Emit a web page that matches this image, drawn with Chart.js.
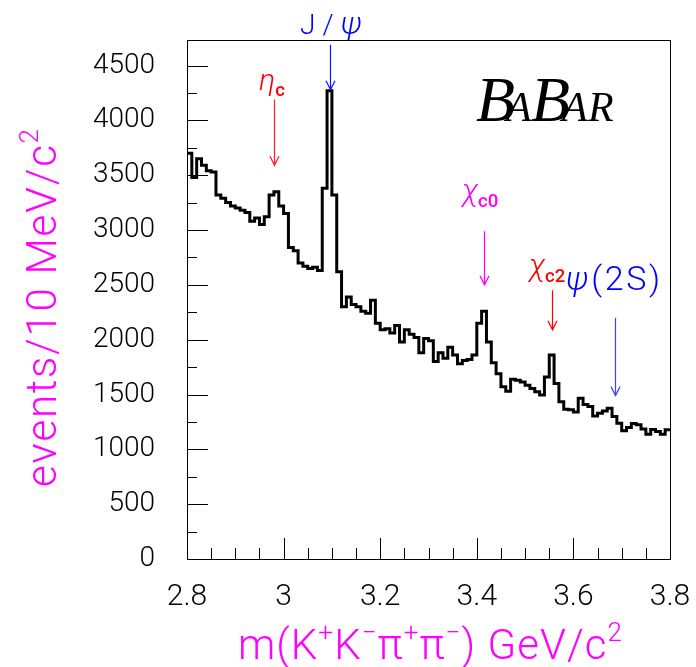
<!DOCTYPE html>
<html>
<head>
<meta charset="utf-8">
<script src="https://cdn.jsdelivr.net/npm/chart.js@4.4.1/dist/chart.umd.min.js"></script>
<style>
  body { margin: 0; background: #fff; }
  canvas { display: block; }
</style>
</head>
<body>
<canvas id="spectrum" width="696" height="667"></canvas>
<script>
// m(K+K-pi+pi-) spectrum, 10 MeV bins from 2.80 to 3.80 GeV
const massLow = 2.80;
const massHigh = 3.80;
const binWidth = 0.01;

const counts = [
  3700, 3480, 3650, 3590, 3540, 3530, 3320, 3290, 3250, 3220,
  3200, 3180, 3160, 3080, 3110, 3050, 3120, 3320, 3350, 3220,
  3150, 2840, 2810, 2700, 2670, 2650, 2660, 2630, 3380, 4270,
  3320, 2620, 2300, 2390, 2320, 2300, 2260, 2240, 2360, 2150,
  2090, 2100, 2060, 2130, 1980, 2090, 2050, 2020, 1880, 2010,
  1990, 1800, 1880, 1830, 1930, 1860, 1780, 1810, 1820, 1860,
  2150, 2260, 1980, 1790, 1690, 1570, 1530, 1640, 1630, 1615,
  1585, 1555, 1525, 1495, 1660, 1860, 1600, 1435, 1365, 1360,
  1340, 1465, 1410, 1390, 1305, 1330, 1350, 1375, 1300, 1237,
  1170, 1200, 1235, 1225, 1185, 1138, 1180, 1163, 1138, 1178
];

const yMax = 4733;
const yLabels = [0, 500, 1000, 1500, 2000, 2500, 3000, 3500, 4000, 4500];
const xLabels = [2.8, 3.0, 3.2, 3.4, 3.6, 3.8];

// charmonium states: mass, arrow from / to (events), colour
const peakNames  = ['eta_c', 'J/psi', 'chi_c0', 'chi_c2', 'psi(2S)'];
const peakMasses = [2.980, 3.097, 3.415, 3.556, 3.686];
const arrowFrom  = [4190, 4690, 2990, 2450, 2200];
const arrowTo    = [3590, 4280, 2500, 2090, 1490];
const peakColors = ['#ff2020', '#1010ff', '#ff00ff', '#ff0000', '#4040ff'];

// histogram as left bin edges plus the closing edge
const histPoints = counts.map((v, i) => ({ x: +(massLow + i * binWidth).toFixed(2), y: v }));
histPoints.push({ x: massHigh, y: counts[counts.length - 1] });

const sansFam = 'Roboto, "Liberation Sans", sans-serif';
const dejaFam = '"DejaVu Sans", sans-serif';

// draws a run of text pieces; kind '' / 'sup' / 'sub', spread over an optional width
// part = [text, kind, style, family, size]
function textRun(ctx, parts, x, y, base, targetW) {
  const pieces = [];
  parts.forEach(([str, kind, style, fam, sz]) => {
    for (const ch of str) {
      pieces.push({ ch, kind: kind || '', style: style || base.style, fam: fam || base.fam, sz: sz || base.size });
    }
  });
  const fontFor = p => {
    const s = p.kind ? p.sz * 0.62 : p.sz;
    return p.style + ' ' + s.toFixed(1) + 'px ' + p.fam;
  };
  let natural = 0;
  pieces.forEach(p => { ctx.font = fontFor(p); p.w = ctx.measureText(p.ch).width; natural += p.w; });
  const gap = targetW ? (targetW - natural) / (pieces.length - 1) : 0;
  let cx = x;
  pieces.forEach(p => {
    ctx.font = fontFor(p);
    const dy = p.kind === 'sup' ? -p.sz * 0.42 : p.kind === 'sub' ? p.sz * 0.2 : 0;
    ctx.fillText(p.ch, cx, y + dy);
    cx += p.w + gap;
  });
}

function arrow(ctx, x, y0, y1, color) {
  ctx.strokeStyle = color;
  ctx.lineWidth = 1.2;
  ctx.beginPath();
  ctx.moveTo(x, y0);
  ctx.lineTo(x, y1);
  ctx.moveTo(x - 4.5, y1 - 9);
  ctx.lineTo(x, y1);
  ctx.lineTo(x + 4.5, y1 - 9);
  ctx.stroke();
}

const decorations = {
  id: 'decorations',
  afterDraw(chart) {
    const { ctx, chartArea: a, scales } = chart;
    const xs = scales.x, ys = scales.y;
    ctx.save();

    // frame
    ctx.strokeStyle = '#000';
    ctx.lineWidth = 1;
    ctx.strokeRect(Math.round(a.left) + 0.5, Math.round(a.top) + 0.5,
      Math.round(a.right - a.left), Math.round(a.bottom - a.top));

    // inner ticks
    ctx.beginPath();
    for (let v = 0; v <= yMax; v += 250) {
      const py = Math.round(ys.getPixelForValue(v)) + 0.5;
      const len = v % 500 === 0 ? 21 : 10;
      ctx.moveTo(a.left, py);
      ctx.lineTo(a.left + len, py);
    }
    for (let k = 0; k <= 20; k++) {
      const px = Math.round(xs.getPixelForValue(massLow + k * 0.05)) + 0.5;
      const len = k % 4 === 0 ? 21 : 11;
      ctx.moveTo(px, a.bottom);
      ctx.lineTo(px, a.bottom - len);
    }
    ctx.stroke();

    // axis titles
    ctx.fillStyle = '#ff00ff';
    ctx.textBaseline = 'alphabetic';
    ctx.textAlign = 'left';
    const title = { style: '300', fam: sansFam, size: 42 };
    textRun(ctx, [['m(K'], ['+', 'sup'], ['K'], ['\u2212', 'sup'], ['\u03c0'], ['+', 'sup'],
      ['\u03c0'], ['\u2212', 'sup'], [') GeV/c'], ['2', 'sup']], 238, 659, title, 384);

    ctx.save();
    ctx.translate(56, 487);
    ctx.rotate(-Math.PI / 2);
    textRun(ctx, [['events/10 MeV/c'], ['2', 'sup']], 0, 0, title, 358);
    ctx.restore();

    // peak markers
    peakMasses.forEach((m, i) => {
      const px = xs.getPixelForValue(m);
      arrow(ctx, Math.round(px) + 0.5, ys.getPixelForValue(arrowFrom[i]), ys.getPixelForValue(arrowTo[i]), peakColors[i]);
    });
    const lab = { style: '400', fam: sansFam, size: 28 };
    const it = 'italic 300';
    const sub = '500';
    ctx.fillStyle = '#ff0000';
    textRun(ctx, [['\u03b7', '', it, sansFam, 30], ['c', 'sub', sub, sansFam, 30]], 259, 90, lab);
    ctx.fillStyle = '#0000ff';
    textRun(ctx, [['J'], ['/'], ['\u03c8', '', it, sansFam, 32]], 300, 34, { style: '300', fam: sansFam, size: 28 }, 62);
    ctx.fillStyle = '#ff00ff';
    textRun(ctx, [['\u03c7', '', it, sansFam, 31], ['c0', 'sub', sub, sansFam, 30]], 462, 201, lab);
    ctx.fillStyle = '#ff0000';
    textRun(ctx, [['\u03c7', '', it, sansFam, 31], ['c2', 'sub', sub, sansFam, 30]], 529, 276, lab);
    ctx.fillStyle = '#0000ff';
    textRun(ctx, [['\u03c8', '', it, sansFam, 34], ['(2S)', '', '300', sansFam, 34]], 566, 290, lab, 94);

    // experiment logo
    ctx.fillStyle = '#000';
    const big = 'italic 64px "Liberation Serif", serif';
    const small = 'italic 42px "Liberation Serif", serif';
    [['B', big, 476], ['A', small, 506], ['B', big, 531], ['A', small, 562], ['R', small, 588]]
      .forEach(([ch, f, x]) => { ctx.font = f; ctx.fillText(ch, x, 121); });

    ctx.restore();
  }
};

new Chart(document.getElementById('spectrum'), {
  type: 'line',
  data: {
    datasets: [{
      data: histPoints,
      stepped: true,
      borderColor: '#000',
      borderWidth: 3,
      pointRadius: 0,
      fill: false,
      tension: 0
    }]
  },
  options: {
    responsive: false,
    animation: false,
    devicePixelRatio: 1,
    layout: { padding: { top: 40, right: 26, left: 0, bottom: 0 } },
    plugins: { legend: { display: false }, tooltip: { enabled: false } },
    scales: {
      x: {
        type: 'linear',
        min: massLow,
        max: massHigh,
        grid: { display: false },
        border: { display: false },
        afterFit(s) { s.height = 108; s.paddingLeft = 0; s.paddingRight = 0; },
        afterBuildTicks(s) { s.ticks = xLabels.map(v => ({ value: v })); },
        ticks: {
          color: '#000',
          font: { family: sansFam, size: 30, weight: 300 },
          padding: 12,
          maxRotation: 0,
          autoSkip: false,
          callback: v => String(Number(v.toFixed(1)))
        }
      },
      y: {
        min: 0,
        max: yMax,
        grid: { display: false },
        border: { display: false },
        afterFit(s) { s.width = 187; s.paddingTop = 0; s.paddingBottom = 0; },
        afterBuildTicks(s) { s.ticks = yLabels.map(v => ({ value: v })); },
        ticks: {
          color: '#000',
          font: { family: sansFam, size: 28, weight: 300 },
          padding: 24,
          callback: v => String(v)
        }
      }
    }
  },
  plugins: [decorations]
});
</script>
</body>
</html>
